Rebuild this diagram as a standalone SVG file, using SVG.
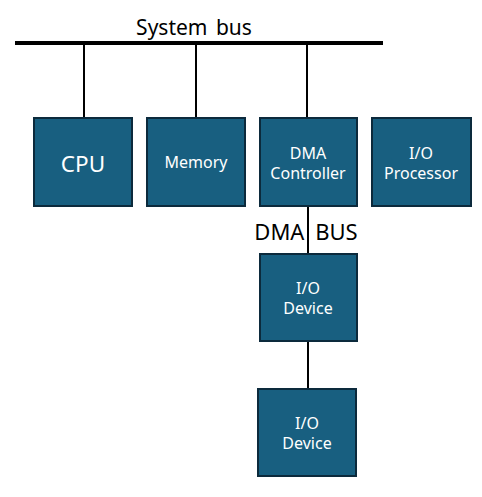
<svg xmlns="http://www.w3.org/2000/svg" width="482" height="497" viewBox="0 0 482 497">
<style>
.box{fill:#185f80;stroke:#0c2a3c;stroke-width:2}
.lbl{fill:#ffffff;font-family:"Noto Sans","Open Sans",sans-serif;font-size:16px;text-anchor:middle}
.big{font-size:22.5px}
.cap{fill:#000;font-family:"Noto Sans","Open Sans",sans-serif;font-size:21px;text-anchor:middle;word-spacing:3px}
.wire{stroke:#000;stroke-width:2;fill:none}
</style>
<rect width="482" height="497" fill="#fff"/>
<g id="connectors">
<line x1="15" y1="43" x2="383" y2="43" stroke="#000" stroke-width="4"/>
<line class="wire" x1="84" y1="43" x2="84" y2="118"/>
<line class="wire" x1="196" y1="43" x2="196" y2="118"/>
<line class="wire" x1="307" y1="43" x2="307" y2="118"/>
<line class="wire" x1="308" y1="206" x2="308" y2="253"/>
<line class="wire" x1="308" y1="341" x2="308" y2="389"/>
</g>
<text class="cap" x="194" y="35">System bus</text>
<text class="cap" x="306" y="240" style="font-size:22px;word-spacing:5px">DMA BUS</text>
<g id="cpu"><rect class="box" x="34" y="118" width="98" height="88"/><text class="lbl big" x="83" y="172">CPU</text></g>
<g id="memory"><rect class="box" x="147" y="118" width="98" height="88"/><text class="lbl" x="196" y="168">Memory</text></g>
<g id="dma"><rect class="box" x="260" y="118" width="97" height="88"/><text class="lbl" x="308" y="159">DMA</text><text class="lbl" x="308" y="179">Controller</text></g>
<g id="iop"><rect class="box" x="372" y="118" width="99" height="88"/><text class="lbl" x="421" y="159">I/O</text><text class="lbl" x="421" y="179">Processor</text></g>
<g id="iodev1"><rect class="box" x="260" y="254" width="97" height="87"/><text class="lbl" x="308" y="294">I/O</text><text class="lbl" x="308" y="314">Device</text></g>
<g id="iodev2"><rect class="box" x="258" y="389" width="98" height="87"/><text class="lbl" x="307" y="429">I/O</text><text class="lbl" x="307" y="449">Device</text></g>
</svg>
